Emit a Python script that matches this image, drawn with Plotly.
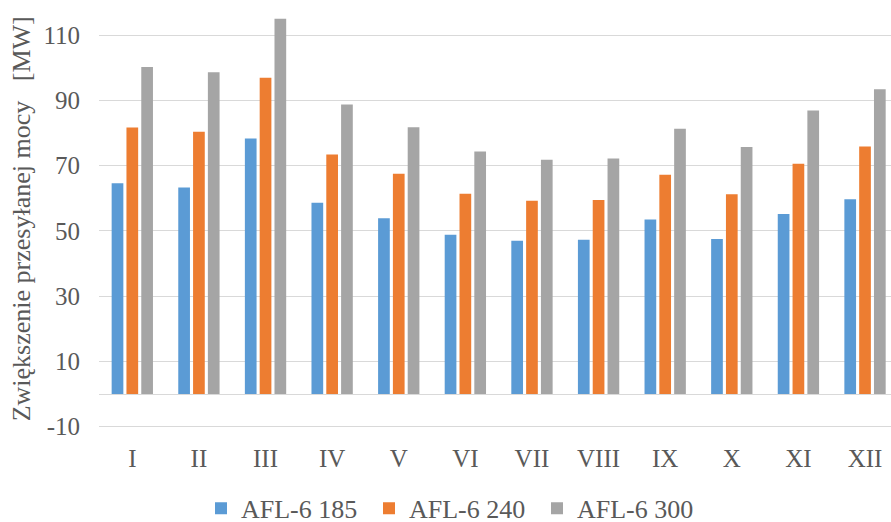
import plotly.graph_objects as go

months = ["I", "II", "III", "IV", "V", "VI", "VII", "VIII", "IX", "X", "XI", "XII"]
afl185 = [64.6, 63.3, 78.3, 58.6, 53.9, 48.8, 47.0, 47.3, 53.5, 47.5, 55.2, 59.7]
afl240 = [81.7, 80.4, 96.9, 73.4, 67.5, 61.4, 59.2, 59.5, 67.2, 61.2, 70.6, 75.9]
afl300 = [100.2, 98.6, 115.0, 88.7, 81.8, 74.3, 71.8, 72.2, 81.3, 75.7, 86.9, 93.4]
series_names = ["AFL-6 185", "AFL-6 240", "AFL-6 300"]
colors = ["#5B9BD5", "#ED7D31", "#A5A5A5"]
y_ticks = [-10, 10, 30, 50, 70, 90, 110]
y_tick_text = ["-10", "10", "30", "50", "70", "90", "110"]

font_family = "Liberation Serif, Times New Roman, serif"
text_color = "#595959"

fig = go.Figure()
for name, vals, col in zip(series_names, [afl185, afl240, afl300], colors):
    fig.add_trace(go.Bar(x=months, y=vals, name=name,
                         marker=dict(color=col, line=dict(width=0))))

# the captured page is squeezed vertically (~532 -> 522), so lay out on 532 rows
W, H = 891, 532
k = 532 / 522
l, r, t, b = 99, 0, 0, 0
paper_h = H - t - b
y_min, y_max = -10.6, 117.7
px_per_unit = 3.25 * k
zero_px = 392.5 * k
top_px = zero_px - y_max * px_per_unit
bottom_px = zero_px - y_min * px_per_unit
dom = [(H - bottom_px) / paper_h, (H - top_px) / paper_h]

legend_y_px = 516
legend_x_px = 201

fig.update_layout(
    width=W, height=H,
    margin=dict(l=l, r=r, t=t, b=b, pad=0),
    paper_bgcolor="white", plot_bgcolor="white",
    barmode="group", bargap=0.333, bargroupgap=0.21,
    font=dict(family=font_family, size=25, color=text_color),
    showlegend=True,
    legend=dict(orientation="h",
                x=(legend_x_px - l) / (W - l - r), xanchor="left",
                y=(H - legend_y_px) / paper_h, yanchor="middle",
                font=dict(size=26, color=text_color),
                bgcolor="rgba(0,0,0,0)", itemwidth=30,
                entrywidth=123, entrywidthmode="pixels"),
    xaxis=dict(range=[-0.5, 11.39], showgrid=False, showline=False,
               ticks="", ticklabelstandoff=12, automargin=False,
               tickfont=dict(size=25, color=text_color)),
    yaxis=dict(range=[y_min, y_max], domain=dom,
               tickvals=y_ticks, ticktext=y_tick_text,
               showgrid=True, gridcolor="#D9D9D9", gridwidth=1.3,
               zeroline=True, zerolinecolor="#D9D9D9", zerolinewidth=1.3,
               showline=False, ticks="", ticklabelstandoff=18,
               automargin=False,
               tickfont=dict(size=25, color=text_color)),
)

fig.add_annotation(
    text="Zwiększenie przesyłanej mocy\u00a0\u00a0\u00a0[MW]",
    xref="paper", yref="paper",
    x=(21 - l) / (W - l - r), y=(dom[0] + dom[1]) / 2,
    xanchor="center", yanchor="middle",
    textangle=-90, showarrow=False,
    font=dict(family=font_family, size=26, color=text_color),
)

fig.write_html("out.html",
               config={"displayModeBar": False},
               post_script="document.body.style.margin='0';document.body.style.overflow='hidden';")
